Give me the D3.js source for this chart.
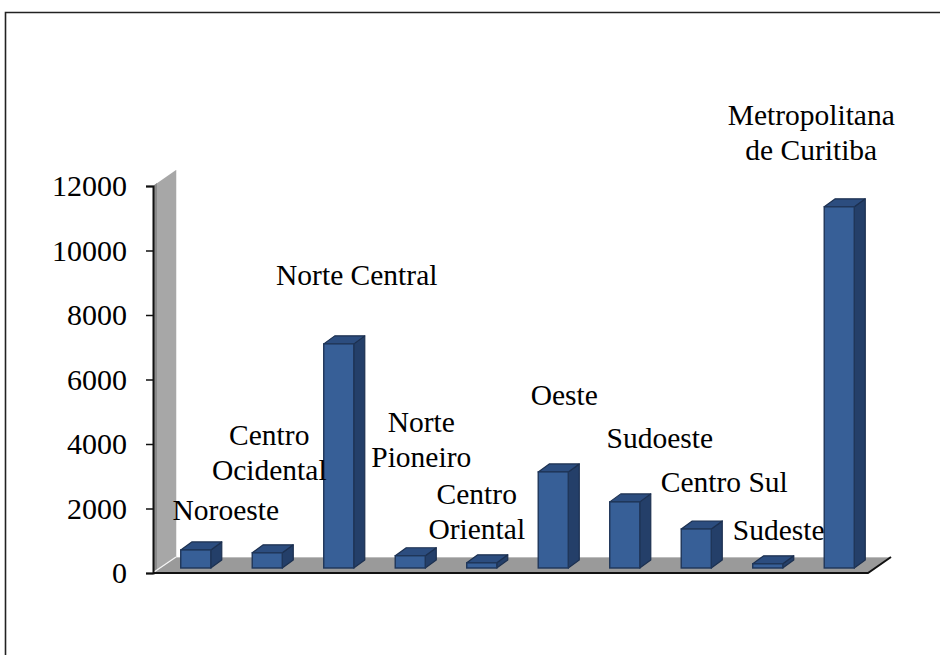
<!DOCTYPE html>
<html>
<head>
<meta charset="utf-8">
<script src="https://cdn.jsdelivr.net/npm/d3@7"></script>
<style>
  html, body { margin: 0; padding: 0; background: #fff; }
  svg { display: block; }
</style>
</head>
<body>
<svg id="chart" width="940" height="655"></svg>
<script>
// Mesorregiões do Paraná
const categories = ["Noroeste", "Centro Ocidental", "Norte Central", "Norte Pioneiro",
  "Centro Oriental", "Oeste", "Sudoeste", "Centro Sul", "Sudeste", "Metropolitana de Curitiba"];
const values = [560, 470, 6950, 380, 160, 2980, 2050, 1210, 130, 11200];
const labelLines = [["Noroeste"], ["Centro", "Ocidental"], ["Norte Central"], ["Norte", "Pioneiro"],
  ["Centro", "Oriental"], ["Oeste"], ["Sudoeste"], ["Centro Sul"], ["Sudeste"], ["Metropolitana", "de Curitiba"]];
const yTicks = [0, 2000, 4000, 6000, 8000, 10000, 12000];

// label placement relative to the top centre of each bar's front face
const labelNudge = [[30, -30], [2, -73], [18, -59], [11, -89], [-5, -24],
  [11, -67], [35, -54], [28, -37], [11, -24], [-28, -47]];

const FONT = "'Liberation Serif', Tinos, 'Times New Roman', Times, 'DejaVu Serif', serif";

const svg = d3.select("#chart");

// frame
svg.append("path")
  .attr("d", "M5.5,655 L5.5,12.5 L940,12.5")
  .attr("fill", "none").attr("stroke", "#222").attr("stroke-width", 1.6);

const plot = { left: 153, right: 868, top: 186, bottom: 573 };
const depth = { dx: 23, dy: -16 };   // floor / wall depth
const barDepth = { dx: 11, dy: -8 };
const barOffset = { dx: 7, dy: -5 }; // bars stand slightly behind the front edge

const x = d3.scaleBand().domain(categories).range([plot.left, plot.right]).paddingInner(0.58).paddingOuter(0.29);
const y = d3.scaleLinear().domain([0, 12000]).range([plot.bottom, plot.top]);

// side wall
const wallTop = y(12000);
svg.append("polygon")
  .attr("points", [[plot.left, wallTop], [plot.left + depth.dx, wallTop + depth.dy],
    [plot.left + depth.dx, plot.bottom + depth.dy], [plot.left, plot.bottom]].join(" "))
  .attr("fill", "#a7a7a7");
svg.append("polygon")
  .attr("points", [[plot.left, wallTop], [plot.left + 4, wallTop - 3],
    [plot.left + 4, plot.bottom - 3], [plot.left, plot.bottom]].join(" "))
  .attr("fill", "#8a8a8a");
svg.append("line")
  .attr("x1", plot.left + depth.dx + 0.5).attr("x2", plot.left + depth.dx + 0.5)
  .attr("y1", wallTop + depth.dy).attr("y2", plot.bottom + depth.dy)
  .attr("stroke", "#e8e8e8").attr("stroke-width", 1);

// floor
svg.append("polygon")
  .attr("points", [[plot.left, plot.bottom], [plot.left + depth.dx, plot.bottom + depth.dy],
    [plot.right + depth.dx, plot.bottom + depth.dy], [plot.right, plot.bottom]].join(" "))
  .attr("fill", "#9a9a9a");
svg.append("line")
  .attr("x1", plot.left + depth.dx).attr("x2", plot.right + depth.dx)
  .attr("y1", plot.bottom + depth.dy + 0.5).attr("y2", plot.bottom + depth.dy + 0.5)
  .attr("stroke", "#bdbdbd").attr("stroke-width", 1);
svg.append("line")
  .attr("x1", plot.left + 1).attr("y1", plot.bottom - 1)
  .attr("x2", plot.left + depth.dx).attr("y2", plot.bottom + depth.dy)
  .attr("stroke", "#f4f4f4").attr("stroke-width", 1.2);
// floor front and right edge
svg.append("path")
  .attr("d", `M${plot.left},${plot.bottom} L${plot.right},${plot.bottom} L${plot.right + depth.dx},${plot.bottom + depth.dy}`)
  .attr("fill", "none").attr("stroke", "#111").attr("stroke-width", 2);

// y axis
const axis = svg.append("g").attr("transform", `translate(${plot.left},0)`)
  .call(d3.axisLeft(y).tickValues(yTicks).tickSize(7).tickPadding(19).tickFormat(d3.format("d")));
axis.attr("font-family", FONT).attr("font-size", 30);
axis.select(".domain").attr("stroke", "#111").attr("stroke-width", 2);
axis.selectAll(".tick line").attr("stroke", "#111").attr("stroke-width", 1.5);
axis.selectAll(".tick text").attr("fill", "#000").attr("font-family", FONT).attr("font-size", 30);

// bars
const bars = svg.append("g");
categories.forEach((c, i) => {
  const x0 = x(c) + barOffset.dx;
  const x1 = x0 + x.bandwidth();
  const yb = plot.bottom + barOffset.dy;
  const yt = y(values[i]) + barOffset.dy;
  const g = bars.append("g");
  g.append("polygon")
    .attr("points", [[x1, yt], [x1 + barDepth.dx, yt + barDepth.dy], [x1 + barDepth.dx, yb + barDepth.dy], [x1, yb]].join(" "))
    .attr("fill", "#243f69").attr("stroke", "#1c3050").attr("stroke-width", 1.2).attr("stroke-linejoin", "round");
  g.append("polygon")
    .attr("points", [[x0, yt], [x0 + barDepth.dx, yt + barDepth.dy], [x1 + barDepth.dx, yt + barDepth.dy], [x1, yt]].join(" "))
    .attr("fill", "#2c4d7f").attr("stroke", "#1c3050").attr("stroke-width", 1.2).attr("stroke-linejoin", "round");
  g.append("rect")
    .attr("x", x0).attr("y", yt).attr("width", x1 - x0).attr("height", yb - yt)
    .attr("fill", "#375f97").attr("stroke", "#1f3659").attr("stroke-width", 1.4);
});

// data labels
const lineHeight = 35;
categories.forEach((c, i) => {
  const cx = x(c) + barOffset.dx + x.bandwidth() / 2 + labelNudge[i][0];
  const base = y(values[i]) + barOffset.dy + labelNudge[i][1];
  const lines = labelLines[i];
  const t = svg.append("text").attr("text-anchor", "middle")
    .attr("font-family", FONT).attr("font-size", 29.5).attr("fill", "#000");
  lines.forEach((l, k) => {
    t.append("tspan").attr("x", cx).attr("y", base - (lines.length - 1 - k) * lineHeight).text(l);
  });
});
</script>
</body>
</html>
